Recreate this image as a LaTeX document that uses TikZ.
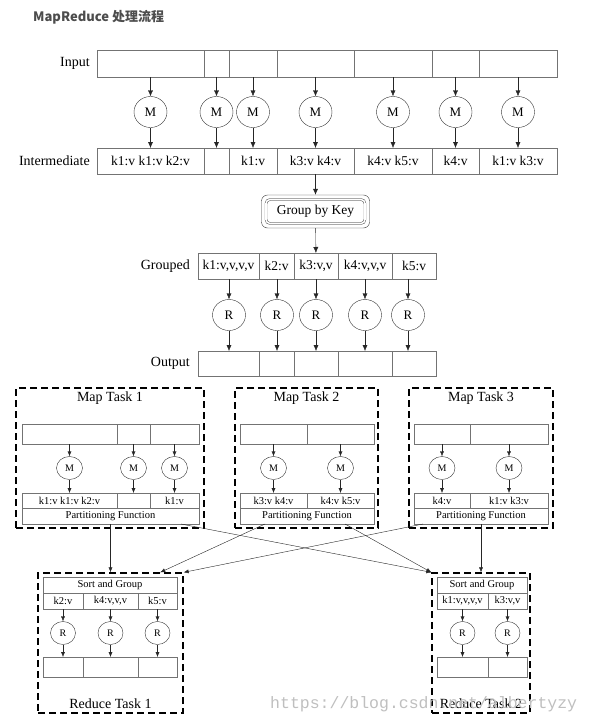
\documentclass[tikz,border=0pt]{standalone}
\usepackage{fontspec}
\setmainfont{Liberation Serif}
\newfontfamily\cjk{Noto Sans CJK SC}
\newfontfamily\markfont{Liberation Mono}
\usetikzlibrary{positioning,shapes.geometric,arrows.meta,calc}

\tikzset{
	cell/.style={draw=black!55, inner sep=0pt, outer sep=0pt, font=\fontsize{13.5}{15}\selectfont},
	smallcell/.style={cell, font=\fontsize{10.5}{12}\selectfont},
	worker/.style={ellipse, draw=black!80, inner sep=0pt, minimum width=33pt, minimum height=31pt, font=\fontsize{13}{15}\selectfont},
	smallworker/.style={worker, minimum width=26pt, minimum height=23pt, font=\fontsize{10}{12}\selectfont},
	task/.style={draw, dash pattern=on 7pt off 4pt, line width=1.3pt, inner sep=0pt},
	flow/.style={-{Latex[length=6pt,width=5pt]}, black!85},
	smallflow/.style={-{Latex[length=5pt,width=4pt]}, black!85},
	rowlabel/.style={font=\fontsize{14}{16}\selectfont, inner sep=0pt},
}

\begin{document}
\begin{tikzpicture}[x=1pt,y=-1pt]
	\useasboundingbox (0,0) rectangle (590,720);
	\node[anchor=west, inner sep=0pt, font=\cjk\bfseries\fontsize{13}{15}\selectfont, text=black!70] (title) at (33,17) {MapReduce 处理流程}; % Title

	% Input, mappers and intermediate
	\foreach \xa/\xb/\txt [count=\i] in {97/204/{k1:v k1:v k2:v}, 204/229/{}, 229/277/{k1:v}, 277/354/{k3:v k4:v}, 354/432/{k4:v k5:v}, 432/479/{k4:v}, 479/557/{k1:v k3:v}} {
		\node[cell, minimum width={(\xb-\xa)*1pt}, minimum height=27pt] (in\i) at ({(\xa+\xb)/2},63.5) {};
		\node[cell, minimum width={(\xb-\xa)*1pt}, minimum height=26pt] (im\i) at ({(\xa+\xb)/2},161) {\txt};
		\node[worker] (m\i) at ({(\xa+\xb)/2},112) {M};
		\draw[flow] (in\i) -- (m\i);
		\draw[flow] (m\i) -- (im\i);
	}
	\node[rowlabel, left=7pt of in1] {Input};
	\node[rowlabel, left=7pt of im1] {Intermediate};

	% Group by Key
	\node[draw=black!80, rounded corners=6pt, minimum width=108pt, minimum height=33pt] (gbk) at (315.5,211.5) {};
	\node[draw=black!80, double, double distance=1.6pt, rounded corners=4pt, minimum width=99pt, minimum height=24pt, font=\fontsize{13.5}{15}\selectfont] (gbkin) at (gbk) {Group by Key};
	\draw[flow] (im4) -- (gbk);

	% Grouped, reducers and output
	\foreach \xa/\xb/\txt [count=\i] in {198/259/{k1:v,v,v,v}, 259/294/{k2:v}, 294/338/{k3:v,v}, 338/392/{k4:v,v,v}, 392/436/{k5:v}} {
		\node[cell, minimum width={(\xb-\xa)*1pt}, minimum height=26pt] (gr\i) at ({(\xa+\xb)/2},266) {\txt};
		\node[cell, minimum width={(\xb-\xa)*1pt}, minimum height=25pt] (out\i) at ({(\xa+\xb)/2},363.5) {};
	}
	\foreach \x [count=\i] in {229,277,316,365,408} {
		\node[worker] (r\i) at (\x,315) {R};
		\draw[flow] (r\i |- gr\i.south) -- (r\i);
		\draw[flow] (r\i) -- (r\i |- out\i.north);
	}
	\draw[flow] (gbk) -- (gr3);
	\node[rowlabel, left=8pt of gr1] {Grouped};
	\node[rowlabel, left=8pt of out1] {Output};

	% Map Task 1
	\node[task, minimum width=188pt, minimum height=140pt] (mt1) at (110,458) {};
	\node[rowlabel, below=4pt of mt1.north] {Map Task 1};
	\foreach \xa/\xb/\txt [count=\i] in {22/117/{k1:v k1:v k2:v}, 117/150/{}, 150/199/{k1:v}} {
		\node[smallcell, minimum width={(\xb-\xa)*1pt}, minimum height=20pt] (aa\i) at ({(\xa+\xb)/2},434) {};
		\node[smallcell, minimum width={(\xb-\xa)*1pt}, minimum height=15pt] (ab\i) at ({(\xa+\xb)/2},500.5) {\txt};
		\node[smallworker] (am\i) at ({(\xa+\xb)/2},468) {M};
		\draw[smallflow] (aa\i) -- (am\i);
		\draw[smallflow] (am\i) -- (ab\i);
	}
	\node[smallcell, minimum width=177pt, minimum height=16pt] (pf1) at (110.5,516) {Partitioning Function};

	% Map Task 2
	\node[task, minimum width=143pt, minimum height=140pt] (mt2) at (306.5,458) {};
	\node[rowlabel, below=4pt of mt2.north] {Map Task 2};
	\foreach \xa/\xb/\txt [count=\i] in {240/307/{k3:v k4:v}, 307/374/{k4:v k5:v}} {
		\node[smallcell, minimum width={(\xb-\xa)*1pt}, minimum height=20pt] (ba\i) at ({(\xa+\xb)/2},434) {};
		\node[smallcell, minimum width={(\xb-\xa)*1pt}, minimum height=15pt] (bb\i) at ({(\xa+\xb)/2},500.5) {\txt};
		\node[smallworker] (bm\i) at ({(\xa+\xb)/2},468) {M};
		\draw[smallflow] (ba\i) -- (bm\i);
		\draw[smallflow] (bm\i) -- (bb\i);
	}
	\node[smallcell, minimum width=134pt, minimum height=16pt] (pf2) at (307,516) {Partitioning Function};

	% Map Task 3
	\node[task, minimum width=144pt, minimum height=140pt] (mt3) at (481,458) {};
	\node[rowlabel, below=4pt of mt3.north] {Map Task 3};
	\foreach \xa/\xb/\txt [count=\i] in {414/470/{k4:v}, 470/548/{k1:v k3:v}} {
		\node[smallcell, minimum width={(\xb-\xa)*1pt}, minimum height=20pt] (ca\i) at ({(\xa+\xb)/2},434) {};
		\node[smallcell, minimum width={(\xb-\xa)*1pt}, minimum height=15pt] (cb\i) at ({(\xa+\xb)/2},500.5) {\txt};
		\node[smallworker] (cm\i) at ({(\xa+\xb)/2},468) {M};
		\draw[smallflow] (ca\i) -- (cm\i);
		\draw[smallflow] (cm\i) -- (cb\i);
	}
	\node[smallcell, minimum width=134pt, minimum height=16pt] (pf3) at (481,516) {Partitioning Function};

	% Reduce Task 1
	\node[task, minimum width=145pt, minimum height=140pt] (rt1) at (110.5,643) {};
	\node[rowlabel, above=5pt of rt1.south] {Reduce Task 1};
	\node[smallcell, minimum width=134pt, minimum height=16pt] (sg1) at (110,585) {Sort and Group};
	\foreach \xa/\xb/\txt [count=\i] in {43/83/{k2:v}, 83/138/{k4:v,v,v}, 138/177/{k5:v}} {
		\node[smallcell, minimum width={(\xb-\xa)*1pt}, minimum height=16pt] (da\i) at ({(\xa+\xb)/2},601) {\txt};
		\node[smallcell, minimum width={(\xb-\xa)*1pt}, minimum height=20pt] (db\i) at ({(\xa+\xb)/2},667) {};
		\node[smallworker, minimum width=25pt] (dr\i) at ({(\xa+\xb)/2},633) {R};
		\draw[smallflow] (da\i) -- (dr\i);
		\draw[smallflow] (dr\i) -- (db\i);
	}

	% Reduce Task 2
	\node[task, minimum width=98pt, minimum height=140pt] (rt2) at (481,643) {};
	\node[rowlabel, above=5pt of rt2.south] {Reduce Task 2};
	\node[smallcell, minimum width=90pt, minimum height=16pt] (sg2) at (482,585) {Sort and Group};
	\foreach \xa/\xb/\txt [count=\i] in {437/488/{k1:v,v,v,v}, 488/527/{k3:v,v}} {
		\node[smallcell, minimum width={(\xb-\xa)*1pt}, minimum height=16pt] (ea\i) at ({(\xa+\xb)/2},601) {\txt};
		\node[smallcell, minimum width={(\xb-\xa)*1pt}, minimum height=20pt] (eb\i) at ({(\xa+\xb)/2},667) {};
		\node[smallworker, minimum width=25pt] (er\i) at ({(\xa+\xb)/2},633) {R};
		\draw[smallflow] (ea\i) -- (er\i);
		\draw[smallflow] (er\i) -- (eb\i);
	}

	% Partitions to reducers
	\draw[smallflow] (pf1) -- (rt1);
	\draw[smallflow] ($(pf1.south east)+(-18pt,0)$) -- (rt2.north west);
	\draw[smallflow] ($(pf2.south west)+(25pt,0)$) -- ($(rt1.north west)!0.84!(rt1.north east)$);
	\draw[smallflow] ($(pf2.south east)+(-29pt,0)$) -- (rt2.north west);
	\draw[smallflow] ($(pf3.south west)+(9pt,0)$) -- (rt1.north east);
	\draw[smallflow] (pf3) -- (rt2);

	\node[anchor=base west, inner sep=0pt, font=\markfont\fontsize{16.5}{18}\selectfont, text=black!25] (mark) at (270,708) {https://blog.csdn.net/albertyzy}; % Watermark
\end{tikzpicture}
\end{document}
